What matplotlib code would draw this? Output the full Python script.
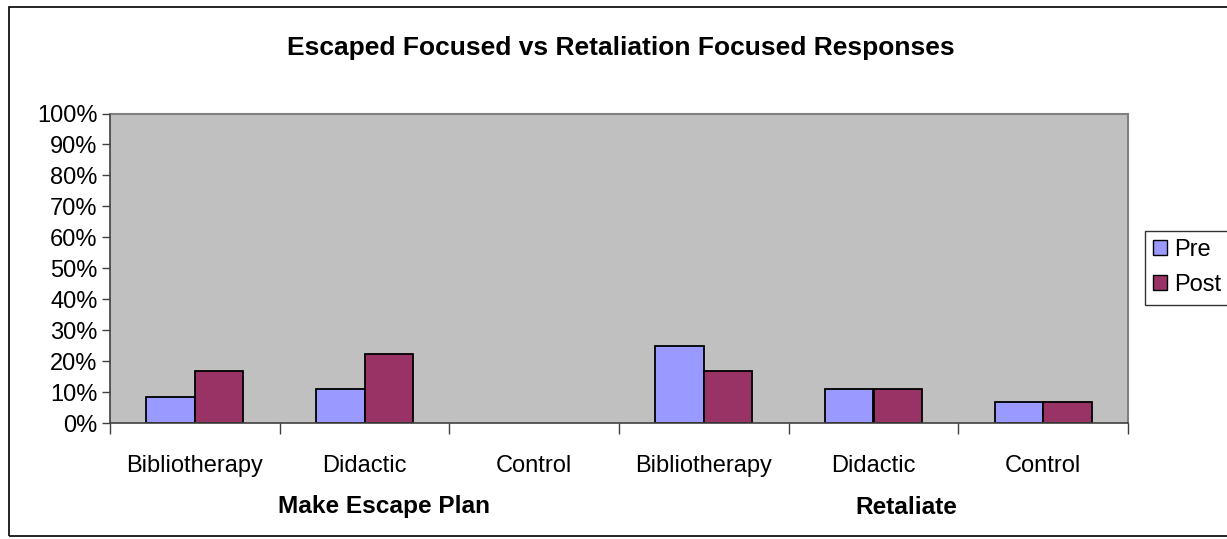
import matplotlib
matplotlib.use("Agg")
import matplotlib.pyplot as plt
from matplotlib.patches import Rectangle, Patch
import numpy as np

plt.rcParams['font.family'] = ['Liberation Sans', 'DejaVu Sans']

title = "Escaped Focused vs Retaliation Focused Responses"
categories = ["Bibliotherapy", "Didactic", "Control", "Bibliotherapy", "Didactic", "Control"]
groups = ["Make Escape Plan", "Retaliate"]
series_names = ["Pre", "Post"]
pre = [8.3, 11.1, 0.0, 25.0, 11.1, 6.7]
post = [16.7, 22.2, 0.0, 16.7, 11.1, 6.7]
yticks = [0, 10, 20, 30, 40, 50, 60, 70, 80, 90, 100]
ytick_labels = [f"{v}%" for v in yticks]

colors = ["#9999FF", "#993366"]

W, H = 1227, 539
fig = plt.figure(figsize=(W / 100, H / 100), dpi=100)
fig.patch.set_facecolor("white")

# outer chart border
fig.patches.append(Rectangle((9 / W, 1 - 536 / H), (1240 - 9) / W, (536 - 7) / H,
                             transform=fig.transFigure, fill=False,
                             edgecolor="black", linewidth=1.2, clip_on=False))

ax = fig.add_axes([110 / W, 1 - 423 / H, (1128 - 110) / W, (423 - 113.5) / H])
ax.set_facecolor("#C0C0C0")

x = np.arange(len(categories))
bw = 1 / 3.5
ax.bar(x - bw / 2, pre, width=bw, color=colors[0], edgecolor="black",
       linewidth=[1.3 if v > 0 else 0 for v in pre], label=series_names[0])
ax.bar(x + bw / 2, post, width=bw, color=colors[1], edgecolor="black",
       linewidth=[1.3 if v > 0 else 0 for v in post], label=series_names[1])

fs = 17.0
ax.set_xlim(-0.5, len(categories) - 0.5)
ax.set_ylim(0, 100)
ax.set_yticks(yticks)
ax.set_yticklabels(ytick_labels, fontsize=fs)
ax.tick_params(axis='y', direction='out', length=6, width=1, color="#404040", pad=3)

ax.set_xticks(x)
ax.set_xticklabels(categories, fontsize=fs)
ax.tick_params(axis='x', which='major', length=0, pad=23)
ax.set_xticks(np.arange(-0.5, len(categories)), minor=True)
ax.tick_params(axis='x', which='minor', direction='out', length=8, width=1, color="#404040")

for s in ["top", "right"]:
    ax.spines[s].set_color("#808080")
    ax.spines[s].set_linewidth(1.5)
for s in ["left", "bottom"]:
    ax.spines[s].set_color("#404040")
    ax.spines[s].set_linewidth(1.2)
ax.set_axisbelow(False)

# group labels
group_x = [384, 906]
for g, gx in zip(groups, group_x):
    fig.text(gx / W, 1 - 507 / H, g, ha="center", va="center", fontsize=17.6, fontweight="bold")

fig.text(621 / W, 1 - 48 / H, title, ha="center", va="center", fontsize=19.0, fontweight="bold")

handles = [Patch(facecolor=c, edgecolor="black", linewidth=1) for c in colors]
leg = fig.legend(handles, series_names, loc="upper left",
                 bbox_to_anchor=(1145 / W, 1 - 231 / H), fontsize=fs,
                 frameon=True, fancybox=False, edgecolor="black",
                 handlelength=0.6, handleheight=0.6, handletextpad=0.3,
                 labelspacing=0.55, borderpad=0.35, borderaxespad=0)
leg.get_frame().set_linewidth(1)

fig.savefig("out.png", dpi=100)
